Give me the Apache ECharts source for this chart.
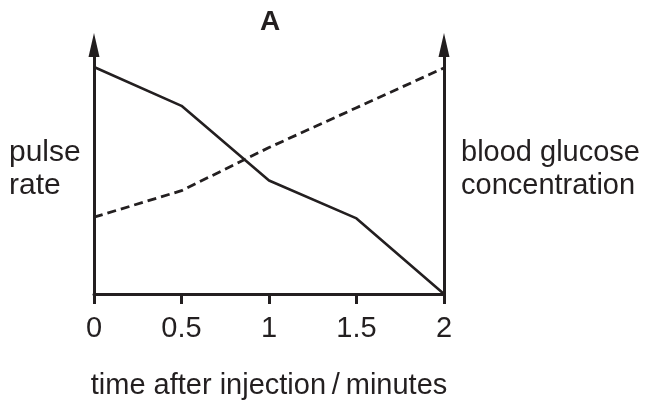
<!DOCTYPE html>
<html>
<head>
<meta charset="utf-8">
<script src="https://cdn.jsdelivr.net/npm/echarts@6/dist/echarts.min.js"></script>
<style>
  html, body { margin: 0; padding: 0; background: #fff; }
  #chart { width: 645px; height: 405px; }
</style>
</head>
<body>
<div id="chart"></div>
<script>
// time after injection / minutes
const timeLabels = ['0', '0.5', '1', '1.5', '2']
// relative values, 0–100 of the axis height (no numeric scale in the figure)
const pulseRate = [95.8, 79.4, 47.9, 31.9, 0]
const bloodGlucose = [32.4, 43.6, 61.8, 78.6, 95.4]

const ink = '#231f20'
const font = '"Liberation Sans", Arial, Helvetica, sans-serif'

const chart = echarts.init(document.getElementById('chart'))

const yAxisBase = {
  type: 'value',
  min: 0,
  max: 100,
  axisLine: {
    show: true,
    lineStyle: { color: ink, width: 3 },
    symbol: ['none', 'triangle'],
    symbolSize: [11, 24],
    symbolOffset: [0, 12]
  },
  axisTick: { show: false },
  axisLabel: { show: false },
  splitLine: { show: false }
}

chart.setOption({
  animation: false,
  backgroundColor: '#fff',
  title: {
    text: 'A',
    left: 260,
    top: 8,
    padding: 0,
    textStyle: { color: ink, fontSize: 28, fontWeight: 'bold', fontFamily: font }
  },
  grid: { left: 94, right: 201, top: 57, bottom: 110 },
  xAxis: {
    type: 'category',
    data: timeLabels,
    boundaryGap: false,
    name: 'time after injection\u2009/\u2009minutes',
    nameLocation: 'middle',
    nameGap: 77,
    nameTextStyle: { color: ink, fontSize: 29, fontFamily: font },
    axisLine: { lineStyle: { color: ink, width: 3 } },
    axisTick: { show: true, length: 10, lineStyle: { color: ink, width: 3 } },
    axisLabel: { color: ink, fontSize: 29, fontFamily: font, margin: 20 },
    splitLine: { show: false }
  },
  yAxis: [
    Object.assign({ position: 'left' }, yAxisBase),
    Object.assign({ position: 'right' }, yAxisBase)
  ],
  series: [
    {
      name: 'pulse rate',
      type: 'line',
      yAxisIndex: 0,
      data: pulseRate,
      showSymbol: false,
      lineStyle: { color: ink, width: 2.6 }
    },
    {
      name: 'blood glucose concentration',
      type: 'line',
      yAxisIndex: 1,
      data: bloodGlucose,
      showSymbol: false,
      lineStyle: { color: ink, width: 2.8, type: [9, 5] }
    }
  ],
  graphic: [
    {
      type: 'text',
      x: 9,
      y: 136,
      style: {
        text: 'pulse\nrate', fill: ink, fontSize: 30, fontFamily: font, lineHeight: 33
      }
    },
    {
      type: 'text',
      x: 461,
      y: 136,
      style: {
        text: 'blood glucose\nconcentration', fill: ink, fontSize: 29, fontFamily: font, lineHeight: 33
      }
    }
  ]
})
</script>
</body>
</html>
